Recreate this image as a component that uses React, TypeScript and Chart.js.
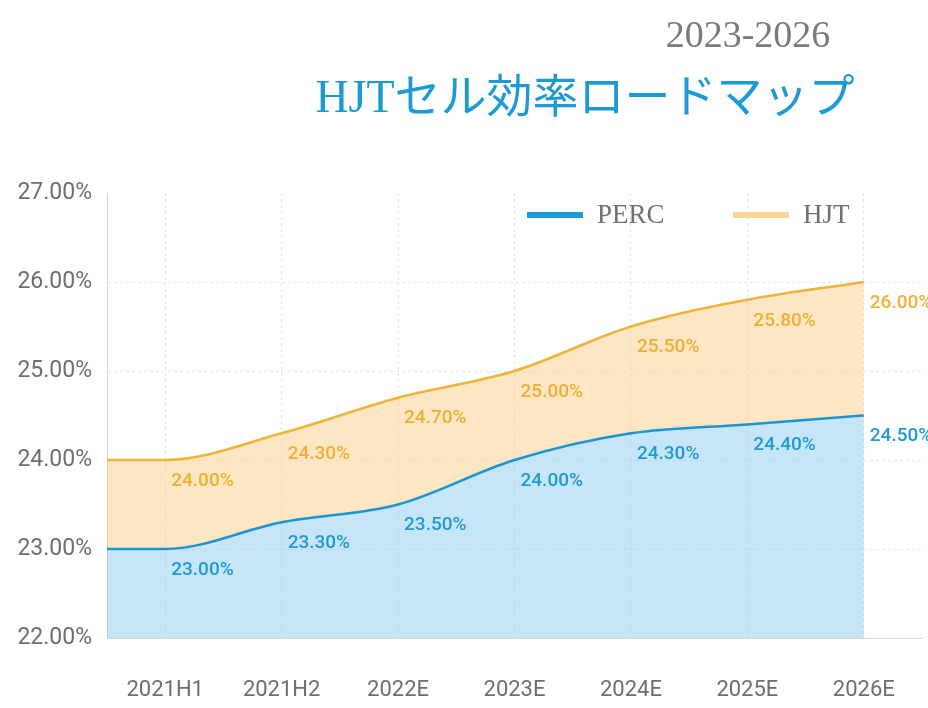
import React, { useEffect, useRef } from "react";
import { Chart, registerables } from "chart.js";

Chart.register(...registerables);

// ---- data ----
const categories = ["2021H1", "2021H2", "2022E", "2023E", "2024E", "2025E", "2026E"];
const percValues = [23.0, 23.3, 23.5, 24.0, 24.3, 24.4, 24.5];
const hjtValues = [24.0, 24.3, 24.7, 25.0, 25.5, 25.8, 26.0];
const seriesNames = ["PERC", "HJT"];
const yMin = 22;
const yMax = 27;
const yStep = 1;
const subtitleText = "2023-2026";
const titleText = "HJTセル効率ロードマップ";

// ---- styles ----
const X_MIN = -0.5;
const X_MAX = categories.length - 0.5;
const PERC_LINE = "#1b95d2";
const PERC_FILL = "rgba(141,205,242,0.5)";
const PERC_LABEL = "#1f9ad6";
const PERC_LEGEND = "#1a9ad8";
const HJT_LINE = "#efb43a";
const HJT_FILL = "rgba(251,206,135,0.5)";
const HJT_LABEL = "#efb034";
const HJT_LEGEND = "#f8d597";
const TICK_COLOR = "#6e6e6e";
const SANS = 'Roboto, "Noto Sans", sans-serif';
const SERIF = '"Liberation Serif", "Noto Sans CJK JP", serif';

const toPoints = (vals: number[]) => [
  { x: X_MIN, y: vals[0] },
  ...vals.map((v, i) => ({ x: i, y: v })),
];

const headerPlugin = {
  id: "header",
  afterDraw(chart: any) {
    const ctx = chart.ctx;
    ctx.save();
    ctx.textAlign = "center";
    ctx.textBaseline = "alphabetic";
    ctx.fillStyle = "#7a7a7a";
    ctx.font = `38px ${SERIF}`;
    ctx.fillText(subtitleText, 748, 47);
    ctx.fillStyle = "#1d9ad6";
    ctx.font = `46px ${SERIF}`;
    ctx.fillText(titleText, 585, 112);
    ctx.restore();
  },
};

const legendPlugin = {
  id: "customLegend",
  afterDraw(chart: any) {
    const ctx = chart.ctx;
    const items = [
      { name: seriesNames[0], color: PERC_LEGEND, x: 527 },
      { name: seriesNames[1], color: HJT_LEGEND, x: 733 },
    ];
    ctx.save();
    ctx.font = `27px ${SERIF}`;
    ctx.textAlign = "left";
    ctx.textBaseline = "middle";
    items.forEach((it) => {
      ctx.fillStyle = it.color;
      ctx.fillRect(it.x, 212, 56, 6);
      ctx.fillStyle = "#707070";
      ctx.fillText(it.name, it.x + 70, 216);
    });
    ctx.restore();
  },
};

const valueLabelPlugin = {
  id: "valueLabels",
  afterDatasetsDraw(chart: any) {
    const ctx = chart.ctx;
    ctx.save();
    ctx.font = `500 19px ${SANS}`;
    ctx.textAlign = "left";
    ctx.textBaseline = "middle";
    chart.data.datasets.forEach((ds: any, di: number) => {
      const meta = chart.getDatasetMeta(di);
      ctx.fillStyle = di === 0 ? PERC_LABEL : HJT_LABEL;
      meta.data.forEach((pt: any, i: number) => {
        if (i === 0) return;
        const v = ds.data[i].y as number;
        ctx.fillText(v.toFixed(2) + "%", pt.x + 6, pt.y + 21);
      });
    });
    ctx.restore();
  },
};

export default function App() {
  const ref = useRef<HTMLCanvasElement | null>(null);

  useEffect(() => {
    if (!ref.current) return;
    const chart = new Chart(ref.current, {
      type: "line",
      data: {
        datasets: [
          {
            label: seriesNames[0],
            data: toPoints(percValues),
            borderColor: PERC_LINE,
            backgroundColor: PERC_FILL,
            borderWidth: 2.5,
            fill: "origin",
            cubicInterpolationMode: "monotone",
            pointRadius: 0,
          },
          {
            label: seriesNames[1],
            data: toPoints(hjtValues),
            borderColor: HJT_LINE,
            backgroundColor: HJT_FILL,
            borderWidth: 2.5,
            fill: "-1",
            cubicInterpolationMode: "monotone",
            pointRadius: 0,
          },
        ],
      },
      options: {
        animation: false,
        responsive: false,
        events: [],
        layout: { padding: { top: 193, right: 6, left: 0, bottom: 0 } },
        plugins: {
          legend: { display: false },
          tooltip: { enabled: false },
          title: { display: false },
        },
        scales: {
          x: {
            type: "linear",
            min: X_MIN,
            max: X_MAX,
            afterBuildTicks: (scale: any) => {
              scale.ticks = categories.map((_, i) => ({ value: i }));
            },
            afterFit: (scale: any) => {
              scale.height = 70;
              scale.paddingLeft = 0;
              scale.paddingRight = 0;
            },
            ticks: {
              autoSkip: false,
              maxRotation: 0,
              padding: 39,
              color: TICK_COLOR,
              font: { family: SANS, size: 22 },
              callback: (v: any) => categories[v as number] ?? "",
            },
            grid: { color: "#e4e4e4", drawTicks: false },
            border: { color: "#d6d6d6", dash: [3, 3] },
          },
          y: {
            min: yMin,
            max: yMax,
            ticks: {
              stepSize: yStep,
              padding: 15,
              color: TICK_COLOR,
              font: { family: SANS, size: 23 },
              callback: (v: any) => Number(v).toFixed(2) + "%",
            },
            afterFit: (scale: any) => {
              scale.width = 107;
              scale.paddingTop = 0;
              scale.paddingBottom = 0;
            },
            grid: {
              drawTicks: false,
              color: (c: any) =>
                c.tick && c.tick.value === yMax ? "rgba(0,0,0,0)" : "#e6e6e6",
            },
            border: { color: "#d6d6d6", dash: [3, 3] },
          },
        },
      },
      plugins: [headerPlugin, legendPlugin, valueLabelPlugin],
    } as any);
    return () => chart.destroy();
  }, []);

  return (
    <div style={{ position: "absolute", left: 0, top: 0, width: 928, height: 708, background: "#fff" }}>
      <canvas ref={ref} width={928} height={708} style={{ display: "block" }} />
    </div>
  );
}
